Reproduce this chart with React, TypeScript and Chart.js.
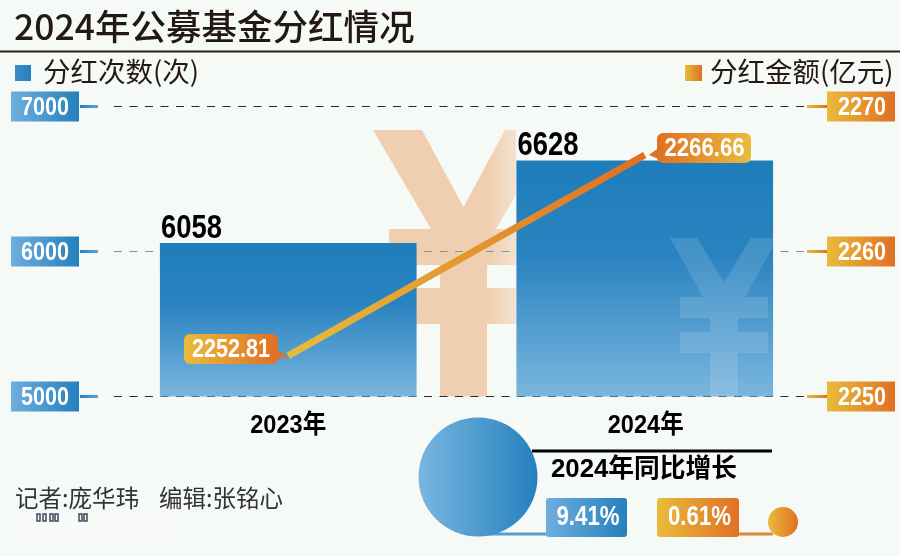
import { useEffect, useRef } from "react";
import { Chart, registerables } from "chart.js";

Chart.register(...registerables);

const years = ["2023年", "2024年"];
const payoutCounts = [6058, 6628];
const payoutAmounts = [2252.81, 2266.66];
const countTicks = [5000, 6000, 7000];
const amountTicks = [2250, 2260, 2270];
const countGrowth = "9.41%";
const amountGrowth = "0.61%";

const BG = "#f6faf6";
const BLUE_DARK = "#2480bd";
const BLUE_LIGHT = "#6eaedd";
const YELLOW = "#e8bc3a";
const ORANGE = "#e07024";
const CJK = "'Noto Sans CJK SC'";
const bold = (size: number) => `bold ${size}px 'Liberation Sans', ${CJK}`;

const hGrad = (ctx: CanvasRenderingContext2D, x0: number, x1: number, a: string, b: string) => {
  const g = ctx.createLinearGradient(x0, 0, x1, 0);
  g.addColorStop(0, a);
  g.addColorStop(1, b);
  return g;
};

// maxWidth squeezes the type, the original uses a condensed face
const text = (
  ctx: CanvasRenderingContext2D,
  str: string,
  x: number,
  y: number,
  font: string,
  color: string,
  maxWidth?: number,
  align: CanvasTextAlign = "center",
  baseline: CanvasTextBaseline = "middle"
) => {
  ctx.font = font;
  ctx.fillStyle = color;
  ctx.textAlign = align;
  ctx.textBaseline = baseline;
  if (maxWidth) ctx.fillText(str, x, y, maxWidth);
  else ctx.fillText(str, x, y);
};

const box = (
  ctx: CanvasRenderingContext2D,
  x: number,
  y: number,
  w: number,
  h: number,
  r: number,
  fill: CanvasGradient | string
) => {
  ctx.fillStyle = fill;
  ctx.beginPath();
  ctx.roundRect(x, y, w, h, r);
  ctx.fill();
};

const poly = (ctx: CanvasRenderingContext2D, pts: number[][]) => {
  ctx.beginPath();
  pts.forEach(([x, y], i) => (i ? ctx.lineTo(x, y) : ctx.moveTo(x, y)));
  ctx.closePath();
  ctx.fill();
};

// big decorative yen sign, cx is its axis of symmetry
const yen = (
  ctx: CanvasRenderingContext2D,
  cx: number,
  top: number,
  bottom: number,
  s: { armOut: number; armIn: number; notch: number; bar1: number[]; bar2: number[]; barW: number; join: number; stem: number }
) => {
  poly(ctx, [
    [cx - s.armOut, top],
    [cx - s.armIn, top],
    [cx, s.notch],
    [cx + s.armIn, top],
    [cx + s.armOut, top],
    [cx + s.join, s.bar1[0]],
    [cx + s.barW, s.bar1[0]],
    [cx + s.barW, s.bar1[1]],
    [cx + s.stem, s.bar1[1]],
    [cx + s.stem, s.bar2[0]],
    [cx + s.barW, s.bar2[0]],
    [cx + s.barW, s.bar2[1]],
    [cx + s.stem, s.bar2[1]],
    [cx + s.stem, bottom],
    [cx - s.stem, bottom],
    [cx - s.stem, s.bar2[1]],
    [cx - s.barW, s.bar2[1]],
    [cx - s.barW, s.bar2[0]],
    [cx - s.stem, s.bar2[0]],
    [cx - s.stem, s.bar1[1]],
    [cx - s.barW, s.bar1[1]],
    [cx - s.barW, s.bar1[0]],
    [cx - s.join, s.bar1[0]],
  ]);
};

const backdrop = {
  id: "backdrop",
  beforeDatasetsDraw(chart: any) {
    const { ctx, scales } = chart;
    ctx.save();

    // title, legend row and credits
    text(ctx, "2024年公募基金分红情况", 14, 27, `500 35.5px ${CJK}`, "#231815", undefined, "left");
    ctx.fillStyle = "#2a201c";
    ctx.fillRect(0, 50.5, 900, 2);
    ctx.fillStyle = hGrad(ctx, 15, 31, "#3d8dc6", BLUE_DARK);
    ctx.fillRect(15, 65, 16, 16);
    text(ctx, "分红次数(次)", 43, 72, `27.5px ${CJK}`, "#231815", undefined, "left");
    ctx.fillStyle = hGrad(ctx, 685, 702, YELLOW, ORANGE);
    ctx.fillRect(685, 65, 17, 16);
    text(ctx, "分红金额(亿元)", 710, 72, `27.5px ${CJK}`, "#231815", undefined, "left");
    text(ctx, "记者:庞华玮", 15, 498, `23.5px ${CJK}`, "#333", undefined, "left");
    text(ctx, "编辑:张铭心", 159, 498, `23.5px ${CJK}`, "#333", undefined, "left");

    // washed out strip under the credits
    ctx.fillStyle = "rgba(255,255,255,0.15)";
    ctx.fillRect(12, 513, 166, 28);
    ctx.strokeStyle = "#3c4a5a";
    ctx.lineWidth = 1.5;
    [37, 43, 50, 55, 79, 84].forEach((x) => ctx.strokeRect(x, 514, 3, 7));

    // peach yen behind the bars
    ctx.fillStyle = (() => {
      const g = ctx.createLinearGradient(490, 0, 516, 0);
      g.addColorStop(0, "#f0cfb0");
      g.addColorStop(1, "rgba(240,207,176,0.55)");
      return g;
    })();
    ctx.save();
    ctx.beginPath();
    ctx.rect(360, 120, 156, 277);
    ctx.clip();
    yen(ctx, 463.5, 130, 396.5, {
      armOut: 90.5,
      armIn: 41.5,
      notch: 207,
      bar1: [229, 265],
      bar2: [288, 324],
      barW: 74.5,
      join: 32.5,
      stem: 23.5,
    });
    ctx.restore();

    // dashed grid, shared by both axes
    countTicks.forEach((t, i) => {
      const y = scales.y.getPixelForValue(t);
      ctx.strokeStyle = i === 1 ? "#8a8f92" : "#2a2a2a";
      ctx.lineWidth = 1.2;
      ctx.setLineDash([8, 7.5]);
      ctx.beginPath();
      ctx.moveTo(114, y);
      ctx.lineTo(804, y);
      ctx.stroke();
    });
    ctx.setLineDash([]);

    // axis badges
    countTicks.forEach((t) => {
      const y = scales.y.getPixelForValue(t);
      ctx.fillStyle = hGrad(ctx, 80, 98, BLUE_DARK, "#5fa3d6");
      ctx.fillRect(80, y - 1.5, 18, 3);
      ctx.fillStyle = hGrad(ctx, 11, 79, BLUE_LIGHT, BLUE_DARK);
      ctx.fillRect(11, y - 15, 68, 30);
      text(ctx, String(t), 45, y + 1, bold(26), "#fff", 48);
    });
    amountTicks.forEach((t) => {
      const y = scales.y1.getPixelForValue(t);
      ctx.fillStyle = hGrad(ctx, 807, 827, YELLOW, ORANGE);
      ctx.fillRect(807, y - 1.5, 20, 3);
      ctx.fillStyle = hGrad(ctx, 827, 895, YELLOW, ORANGE);
      ctx.fillRect(827, y - 15, 68, 30);
      text(ctx, String(t), 862, y + 1, bold(26), "#fff", 48);
    });
    ctx.restore();
  },
  afterDatasetDraw(chart: any, args: any) {
    if (args.index !== 0) return;
    const { ctx } = chart;
    const bar = chart.getDatasetMeta(0).data[1];
    ctx.save();
    ctx.beginPath();
    ctx.rect(bar.x - bar.width / 2, bar.y, bar.width, 400 - bar.y);
    ctx.clip();
    ctx.fillStyle = "rgba(255,255,255,0.13)";
    yen(ctx, 724, 238, 396, {
      armOut: 54,
      armIn: 27,
      notch: 282,
      bar1: [297, 318],
      bar2: [332, 353],
      barW: 44,
      join: 21,
      stem: 14,
    });
    ctx.restore();
  },
  afterDatasetsDraw(chart: any) {
    const { ctx, scales } = chart;
    const bars = chart.getDatasetMeta(0).data;
    const pts = chart.getDatasetMeta(1).data;
    ctx.save();

    // bar values, sit on the left corner of the bar
    bars.forEach((b: any, i: number) => {
      text(ctx, String(payoutCounts[i]), b.x - b.width / 2 + 1, b.y - 5.5, bold(33), "#000", 61, "left", "alphabetic");
    });

    // line value callouts
    const p0 = pts[0];
    ctx.fillStyle = ORANGE;
    poly(ctx, [
      [p0.x - 12, p0.y - 6],
      [p0.x, p0.y + 1],
      [p0.x - 12, p0.y + 3],
    ]);
    box(ctx, 184, 334, 94, 30, 6, hGrad(ctx, 184, 278, YELLOW, ORANGE));
    text(ctx, payoutAmounts[0].toFixed(2), 231, 350, bold(26), "#fff", 78);

    const p1 = pts[1];
    ctx.fillStyle = ORANGE;
    poly(ctx, [
      [p1.x + 4, p1.y],
      [p1.x + 14, p1.y - 7],
      [p1.x + 14, p1.y + 4],
    ]);
    box(ctx, 657, 133, 94, 30, 6, hGrad(ctx, 657, 751, ORANGE, YELLOW));
    text(ctx, payoutAmounts[1].toFixed(2), 704.5, 149, bold(26), "#fff", 80);

    // year labels from the category scale
    years.forEach((y, i) => {
      text(ctx, y, scales.x.getPixelForValue(i) + (i ? 1 : 0), 426, bold(26), "#000", 76);
    });

    // yoy growth block
    ctx.fillStyle = "#000";
    ctx.fillRect(532, 449.5, 240, 3);
    text(ctx, "2024年同比增长", 644, 470, bold(26), "#000", 186);

    ctx.fillStyle = "#5a9ccc";
    ctx.fillRect(488, 532.5, 60, 3);
    ctx.fillStyle = hGrad(ctx, 418, 538, "#7ab6e0", BLUE_DARK);
    ctx.beginPath();
    ctx.arc(478, 477, 59.5, 0, Math.PI * 2);
    ctx.fill();
    box(ctx, 546, 498, 81, 39, 3, hGrad(ctx, 546, 627, BLUE_LIGHT, BLUE_DARK));
    text(ctx, countGrowth, 588, 518, bold(27), "#fff", 63);

    ctx.fillStyle = "#dd8838";
    ctx.fillRect(737, 532.5, 36, 3);
    box(ctx, 657, 498, 82, 39, 3, hGrad(ctx, 657, 739, YELLOW, ORANGE));
    text(ctx, amountGrowth, 699.5, 518, bold(27), "#fff", 63);
    ctx.fillStyle = hGrad(ctx, 768, 798, YELLOW, ORANGE);
    ctx.beginPath();
    ctx.arc(783, 522, 15, 0, Math.PI * 2);
    ctx.fill();

    ctx.restore();
  },
};

export default function App() {
  const canvasRef = useRef<HTMLCanvasElement>(null);

  useEffect(() => {
    document.body.style.margin = "0";
    document.body.style.background = BG;
    if (!canvasRef.current) return;

    const chart = new Chart(canvasRef.current, {
      data: {
        labels: years,
        datasets: [
          {
            type: "bar",
            label: "分红次数(次)",
            data: payoutCounts,
            yAxisID: "y",
            order: 2,
            barPercentage: 0.72,
            categoryPercentage: 1,
            backgroundColor: (c: any) => {
              const { chart: ch, dataIndex } = c;
              if (dataIndex === undefined || !ch.chartArea) return BLUE_DARK;
              const top = ch.scales.y.getPixelForValue(payoutCounts[dataIndex]);
              if (!Number.isFinite(top)) return BLUE_DARK;
              const g = ch.ctx.createLinearGradient(0, top, 0, ch.scales.y.bottom);
              g.addColorStop(0, "#1f7dbb");
              g.addColorStop(0.4, "#2a83c0");
              g.addColorStop(1, "#7ab6de");
              return g;
            },
          },
          {
            type: "line",
            label: "分红金额(亿元)",
            data: payoutAmounts,
            yAxisID: "y1",
            order: 1,
            tension: 0,
            borderWidth: 7,
            pointRadius: 0,
            borderColor: (c: any) => {
              const ch = c.chart;
              if (!ch.chartArea) return ORANGE;
              const x0 = ch.scales.x.getPixelForValue(0);
              const x1 = ch.scales.x.getPixelForValue(1);
              if (!Number.isFinite(x0) || !Number.isFinite(x1)) return ORANGE;
              return hGrad(ch.ctx, x0, x1, YELLOW, ORANGE);
            },
          },
        ],
      } as any,
      options: {
        responsive: false,
        animation: false,
        layout: { padding: { left: 110, right: 77, top: 106.5, bottom: 159.5 } },
        plugins: { legend: { display: false }, tooltip: { enabled: false } },
        scales: {
          x: { display: false },
          y: { display: false, min: countTicks[0], max: countTicks[2] },
          y1: { display: false, min: amountTicks[0], max: amountTicks[2], position: "right" },
        },
      },
      plugins: [backdrop],
    } as any);

    return () => chart.destroy();
  }, []);

  return (
    <div style={{ width: 900, height: 556, background: BG }}>
      <canvas ref={canvasRef} width={900} height={556} style={{ display: "block" }} />
    </div>
  );
}
